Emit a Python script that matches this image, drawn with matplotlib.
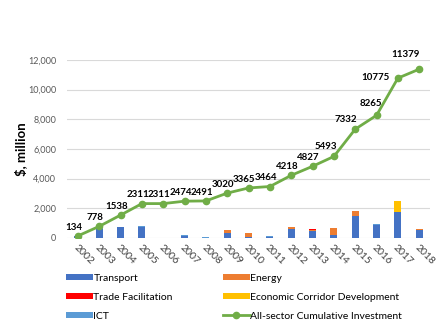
import numpy as np
import matplotlib.pyplot as plt

plt.rcParams['font.family'] = ['Lato', 'DejaVu Sans']

# data
years = ['2002', '2003', '2004', '2005', '2006', '2007', '2008', '2009', '2010',
         '2011', '2012', '2013', '2014', '2015', '2016', '2017', '2018']
transport = [134, 600, 720, 730, 0, 130, 0, 310, 40, 60, 580, 460, 200, 1450, 900, 1750, 560]
energy = [0, 0, 0, 0, 0, 0, 0, 219, 255, 0, 130, 40, 466, 389, 0, 0, 44]
trade = [0, 0, 0, 0, 0, 0, 0, 0, 0, 0, 0, 70, 0, 0, 0, 0, 0]
corridor = [0, 0, 0, 0, 0, 0, 0, 0, 0, 0, 0, 0, 0, 0, 0, 760, 0]
ict = [0, 44, 40, 43, 0, 33, 60, 0, 50, 39, 44, 39, 0, 0, 33, 0, 0]
cumulative = [134, 778, 1538, 2311, 2311, 2474, 2491, 3020, 3365, 3464,
              4218, 4827, 5493, 7332, 8265, 10775, 11379]

# label offsets in points (dx, dy)
offsets = {15: (-16, -3), 16: (-10, 7), 13: (-7, 4), 12: (-6, 4), 14: (-4, 5)}

fig = plt.figure(figsize=(4.4, 3.35), dpi=100)
ax = fig.add_axes([0.153, 0.29, 0.824, 0.531])

x = np.arange(len(years))
w = 0.33
series = [(transport, '#4472C4', 'Transport'),
          (energy, '#ED7D31', 'Energy'),
          (trade, '#FF0000', 'Trade Facilitation'),
          (corridor, '#FFC000', 'Economic Corridor Development'),
          (ict, '#5B9BD5', 'ICT')]
bottom = np.zeros(len(years))
for vals, col, lab in series:
    ax.bar(x, vals, w, bottom=bottom, color=col, label=lab, zorder=2)
    bottom += np.array(vals)

ax.plot(x, cumulative, color='#70AD47', lw=2, marker='o', ms=4.5, zorder=3,
        label='All-sector Cumulative Investment')
for i, v in enumerate(cumulative):
    dx, dy = offsets.get(i, (-3, 3))
    ax.annotate(str(v), (x[i], v), xytext=(dx, dy), textcoords='offset points',
                ha='center', va='bottom', fontsize=7, fontweight='bold', zorder=4)

ax.set_xlim(-0.5, len(years) - 0.5)
ax.set_ylim(0, 12000)
ax.set_yticks(range(0, 12001, 2000))
ax.set_yticklabels([f'{t:,}' for t in range(0, 12001, 2000)], color='#595959', fontsize=6.5)
ax.set_xticks(x)
ax.set_xticklabels(years, rotation=-45, ha='left', va='top', color='#404040',
                   fontsize=7.5, rotation_mode='anchor')
ax.tick_params(length=0, pad=4)
ax.tick_params(axis='y', pad=8)
ax.grid(axis='y', color='#D9D9D9', lw=0.8, zorder=0)
for s in ax.spines.values():
    s.set_visible(False)
ax.set_ylabel('$, million', fontsize=9.5, fontweight='bold')
ax.yaxis.set_label_coords(-0.11, 0.5)

h, l = ax.get_legend_handles_labels()
order = [1, 3, 5, 2, 4, 0]
h = [h[i] for i in order]
l = [l[i] for i in order]
fig.legend(h, l, loc='upper left', bbox_to_anchor=(0.14, 0.195), ncol=2, frameon=False,
           fontsize=7.5, handlelength=2.6, handleheight=0.5, handletextpad=0.05,
           columnspacing=4.8, labelspacing=0.95, borderaxespad=0)

fig.savefig('out.png')
